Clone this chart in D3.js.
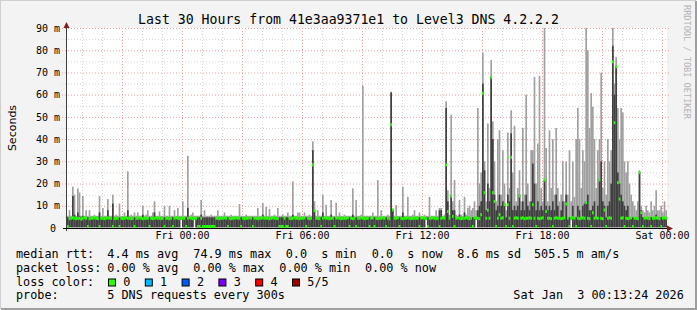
<!DOCTYPE html>
<html>
<head>
<meta charset="utf-8">
<script src="https://cdn.jsdelivr.net/npm/d3@7"></script>
<style>
  body { margin: 0; background: #fff; }
  text { font-family: "DejaVu Sans Mono", monospace; fill: #000; white-space: pre; }
</style>
</head>
<body>
<svg id="chart" width="697" height="310"></svg>
<script>
// 5 minute steps, 30 hours -> 360 steps, values in ms
const rttMedian = [
  0.5,4.2,4.4,4.6,4.4,4.2,4.4,4.4,4.0,4.4, 4.6,4.4,0.5,4.2,4.4,4.4,4.6,4.4,4.2,0.5, 4.4,4.4,4.2,4.4,4.6,4.4,4.4,0.5,4.2,4.4,
  4.4,0.5,4.4,4.2,4.4,4.6,4.4,4.4,4.2,4.4, 0.5,4.4,4.4,4.6,4.4,4.2,4.4,4.4,4.4,0.5, 4.4,4.2,4.4,4.6,4.4,4.4,4.2,4.4,0.5,4.4,
  4.4,4.2,4.4,0.5,4.4,4.6,4.4,4.2,4.4,4.4, 4.4,0.5,4.4,4.6,4.4,4.2,4.4,4.4,0.5,0.5, 4.4,0.5,0.5,0.5,0.5,0.5,0.5,0.5,0.5,4.4,
  4.4,4.2,4.4,4.4,4.6,4.4,0.5,4.4,4.2,4.4, 4.4,4.6,4.4,4.4,0.5,4.4,4.2,4.4,4.4,4.6, 4.4,0.5,4.4,4.4,4.2,4.4,4.4,4.6,4.4,4.4,
  4.4,4.2,4.4,4.6,4.4,4.4,4.2,0.5,0.5,0.5, 4.4,0.5,0.5,4.4,4.2,4.4,4.6,4.4,4.4,4.2, 4.4,4.4,4.6,0.5,4.4,4.2,4.4,28.4,7.7,4.4,
  4.4,4.2,0.5,4.4,4.6,4.4,4.4,4.2,4.4,4.4, 0.5,4.4,4.6,4.4,4.2,4.4,4.4,4.4,4.6,0.5, 4.4,4.2,4.4,0.5,4.4,4.4,4.6,4.4,4.2,4.4,
  4.4,0.5,4.4,4.6,0.5,4.4,4.2,4.4,4.4,4.6, 4.4,0.5,4.4,4.2,46.5,8.1,4.4,4.4,4.6,0.5, 4.4,4.2,4.4,4.4,4.6,4.4,4.2,4.4,4.4,4.4,
  4.4,0.5,4.4,4.6,4.4,4.2,0.5,4.4,4.4,4.6, 4.4,4.2,4.4,0.5,4.4,4.6,4.4,28.4,7.4,4.4, 14.4,5.2,0.5,4.4,4.6,4.4,4.2,4.4,4.4,4.6,
  4.4,4.2,4.4,0.5,4.6,4.4,4.4,4.2,6.0,60.6, 15.9,4.4,8.0,4.4,67.8,15.9,11.9,0.5,4.4,6.0, 4.4,4.6,10.5,0.5,10.5,4.4,31.8,0.5,4.4,4.6,
  4.4,14.4,4.4,4.6,4.2,4.4,4.4,4.6,4.4,10.5, 4.4,0.5,4.4,4.2,4.4,4.6,21.6,7.4,4.4,4.4, 4.2,0.5,4.4,4.6,4.4,4.4,4.2,4.4,4.6,10.8,
  4.4,0.5,4.4,4.6,4.4,0.5,4.4,4.2,4.4,4.6, 4.4,11.4,4.4,4.2,0.5,6.9,4.4,4.6,4.4,21.6, 4.4,4.2,8.1,0.5,4.4,4.6,4.4,74.8,47.4,72.6,
  20.4,13.0,4.4,4.6,0.5,4.4,4.2,4.4,4.6,0.5, 4.4,4.4,4.2,24.9,6.9,0.5,4.4,4.6,4.4,4.2, 0.5,4.4,4.4,4.6,4.4,4.2,0.5,4.4,4.6,4.4
];

// top of the inner (dark) smoke band
const rttHigh = [
  4.8,4.8,4.8,14.4,6,4.8,7,5.5,4.8,5.5, 4.8,4.8,4.8,4.8,4.8,4.8,4.8,4.8,4.8,7, 4.8,4.8,4.8,4.8,8,4.8,4.8,11,4.8,4.8,
  4.8,4.8,4.8,4.8,4.8,4.8,8,4.8,4.8,4.8, 4.8,4.8,4.8,4.8,4.8,6,4.8,4.8,4.8,4.8, 4.8,4.8,7,4.8,4.8,4.8,4.8,4.8,4.8,4.8,
  4.8,4.8,4.8,4.8,4.8,4.8,4.8,4.8,4.8,4.8, 4.8,4.8,9,4.8,4.8,4.8,4.8,4.8,4.8,4.8, 6,4.8,4.8,4.8,4.8,4.8,4.8,4.8,4.8,4.8,
  4.8,4.8,4.8,4.8,4.8,4.8,4.8,4.8,4.8,4.8, 4.8,4.8,4.8,4.8,4.8,4.8,4.8,4.8,4.8,4.8, 4.8,4.8,4.8,4.8,4.8,4.8,4.8,6,4.8,4.8,
  4.8,4.8,4.8,4.8,4.8,4.8,4.8,4.8,4.8,4.8, 4.8,4.8,4.8,4.8,4.8,6,4.8,4.8,4.8,4.8, 4.8,4.8,4.8,4.8,4.8,4.8,4.8,35,8,4.8,
  4.8,4.8,4.8,7,4.8,4.8,4.8,4.8,6,4.8, 4.8,4.8,4.8,4.8,4.8,4.8,4.8,4.8,4.8,4.8, 4.8,6,4.8,4.8,4.8,4.8,4.8,4.8,4.8,4.8,
  4.8,4.8,4.8,4.8,4.8,4.8,4.8,4.8,4.8,4.8, 4.8,4.8,4.8,4.8,61,8,4.8,4.8,4.8,4.8, 4.8,7,4.8,4.8,4.8,4.8,4.8,4.8,4.8,4.8,
  4.8,4.8,4.8,4.8,4.8,4.8,4.8,4.8,4.8,4.8, 4.8,4.8,4.8,8,8,4.8,4.8,54,12,4.8, 14.8,8,8,4.8,4.8,6,4.8,4.8,7,4.8,
  5,4.8,4.8,4.8,4.8,4.8,8,10,12,65, 26,8,20,12,68,40,15,8,10,15, 10,12,11,4.8,15,12,42.6,8,10,8,
  10,15,8,12,8,15,10,8,12,29, 20,8,12,8,10,8,21.6,10,8,10, 8,12,8,15,10,4.8,8,12,4.8,15,
  4.8,4.8,4.8,10,4.8,4.8,10,8,4.8,10, 11,12,15,8,8,10,12,4.8,10,22, 30,12,10,4.8,10,12,20,82,60,73,
  25,20,15,12,10,8,10,4.8,4.8,4.8, 4.8,4.8,4.8,25,8,4.8,4.8,4.8,4.8,4.8, 4.8,4.8,4.8,6,4.8,4.8,4.8,4.8,4.8,4.8
];

// slowest ping of each step (top of the light smoke)
const rttMax = [
  5.5,8,5.5,18.6,15,5.5,17.8,16,5.5,14.4, 5.5,8,5.5,8,5.5,5.5,6,5.5,5.5,14.4, 5.5,9,5.5,5.5,13,5.5,5.5,15,5.5,6,
  5.5,11,5.5,5.5,7,5.5,25.5,5.5,6,5.5, 7,5.5,7,5.5,5.5,10,5.5,6,8,5.5, 5.5,7,12,5.5,5.5,7.5,5.5,5.5,10,5.5,
  5.5,10,5.5,5.5,8,5.5,9,5.5,5.5,12, 5.5,5.5,32.5,5.5,6,7,5.5,5.5,5.5,5.5, 12.6,5.5,8,5.5,5.5,5.5,6,5.5,5.5,5.5,
  8,5.5,5.5,5.5,7,5.5,5.5,5.5,6,5.5, 5.5,5.5,5.5,10.8,5.5,5.5,5.5,6,5.5,5.5, 5.5,5.5,5.5,5.5,9,5.5,5.5,11.2,5.5,9.5,
  5.5,8.5,5.5,5.5,6,5.5,9,5.5,5.5,6, 5.5,5.5,7,5.5,5.5,21,5.5,5.5,7,7, 5.5,5.5,7,5.5,5.5,6,5.5,39,12,5.5,
  8,5.5,5.5,15,5.5,10.5,5.5,5.5,12.6,5.5, 5.5,11.4,5.5,7,5.5,5.5,6,5.5,5.5,5.5, 5.5,17.8,5.5,12.6,5.5,5.5,6,64,5.5,5.5,
  5.5,5.5,5.5,7,5.5,5.5,21.6,5.5,8,5.5, 5.5,5.5,6,5.5,61.3,8.5,5.5,10.3,5.5,5.5, 5.5,18.6,5.5,5.5,14,5.5,5.5,6,8,5.5,
  5.5,7,5.5,5.5,6,5.5,5.5,14,5.5,5.5, 5.5,8,5.5,9,9,5.5,6,57,17,6, 51,12,21.6,6,5.5,12.6,6,5.5,14,6,
  9,10,8,9,12,8,54,20,25,79, 30,12,47,18,75.6,48,30,12,40,44, 15,35,20,8,43,18,53,25,46,12,
  18,26,12,45,15,60,20,12,35,35, 68,20,38,68.4,18,12,90,36,12,44, 18,40,15,45,18,12,15,30,12,30,
  15,35,12,30,14,40,54,40,18,35, 30,90,80,45,60.7,54.6,40,18,35,40, 69.9,18,30,15,40,30,35,90,65,77,
  54,40,54,52,30,25,30,20,15,12, 10,8,12,26,10,8,7,10,8,7, 12,8,10,17,8,8,10,7,12,8
];

// steps where the smoke does not reach down to zero
const emptyBaseSteps = [68, 76, 215, 245, 302];

const yTicks = [0, 10, 20, 30, 40, 50, 60, 70, 80, 90];
const xLabelTimes = ['2026-01-02 00:00', '2026-01-02 06:00', '2026-01-02 12:00', '2026-01-02 18:00', '2026-01-03 00:00'];
const lossColors = ['#26ff00', '#00b8ff', '#0059ff', '#7e00ff', '#ff0000', '#a10000'];
const lossLabels = ['0', '1', '2', '3', '4', '5/5'];
const rttStats = ['4.4 ms avg', '74.9 ms max', '0.0  s min', '0.0  s now', '8.6 ms sd', '505.5 m am/s'];
const lossStats = ['0.00 % avg', '0.00 % max', '0.00 % min', '0.00 % now'];

const parseTime = d3.timeParse('%Y-%m-%d %H:%M');
const stepMinutes = 5;
const startTime = parseTime('2026-01-01 18:15');
const endTime = d3.timeMinute.offset(startTime, stepMinutes * rttMedian.length);

const svg = d3.select('#chart');

// canvas with 3d border
svg.append('rect').attr('width', 697).attr('height', 310).attr('fill', '#f3f3f3');
svg.append('path').attr('d', 'M0,309V0H696').attr('stroke', '#cfcfcf').attr('stroke-width', 2).attr('fill', 'none');
svg.append('path').attr('d', 'M1,309H696V1').attr('stroke', '#9e9e9e').attr('stroke-width', 2).attr('fill', 'none');

const x = d3.scaleTime().domain([startTime, endTime]).range([67, 667]);
const y = d3.scaleLinear().domain([0, 90]).range([228, 28]);

svg.append('rect')
    .attr('x', 67).attr('y', 28)
    .attr('width', 600).attr('height', 200)
    .attr('fill', '#fff');

// grid
const grid = svg.append('g');
d3.range(5, 90, 10).forEach(v => {
    grid.append('line')
        .attr('x1', 62).attr('x2', 669)
        .attr('y1', y(v) + 0.5).attr('y2', y(v) + 0.5)
        .attr('stroke', '#d2d2d2').attr('stroke-dasharray', '1,2');
});
d3.timeHour.range(startTime, endTime).forEach(t => {
    const major = t.getHours() % 3 === 0;
    grid.append('line')
        .attr('x1', Math.round(x(t)) + 0.5).attr('x2', Math.round(x(t)) + 0.5)
        .attr('y1', 28).attr('y2', 231)
        .attr('stroke', major ? '#eba0a0' : '#d2d2d2')
        .attr('stroke-dasharray', '1,2');
});
yTicks.filter(v => v > 0).forEach(v => {
    grid.append('line')
        .attr('x1', 62).attr('x2', 669)
        .attr('y1', y(v) + 0.5).attr('y2', y(v) + 0.5)
        .attr('stroke', '#eba0a0').attr('stroke-dasharray', '1,2');
});

// smoke
const steps = rttMedian.map((m, i) => ({
    t0: d3.timeMinute.offset(startTime, i * stepMinutes),
    t1: d3.timeMinute.offset(startTime, (i + 1) * stepMinutes),
    low: emptyBaseSteps.includes(i) ? Math.min(m, 3.8) : 0.3,
    med: m,
    high: Math.max(rttHigh[i], m),
    max: Math.max(rttMax[i], rttHigh[i], m)
}));
const clipY = v => y(Math.min(v, 90));

const smoke = svg.append('g');
smoke.selectAll('rect.outer')
    .data(steps)
    .join('rect')
    .attr('class', 'outer')
    .attr('x', d => x(d.t0))
    .attr('width', d => x(d.t1) - x(d.t0))
    .attr('y', d => clipY(d.max))
    .attr('height', d => y(d.low) - clipY(d.max))
    .attr('fill', '#a0a0a0');
smoke.selectAll('rect.inner')
    .data(steps)
    .join('rect')
    .attr('class', 'inner')
    .attr('x', d => x(d.t0))
    .attr('width', d => x(d.t1) - x(d.t0))
    .attr('y', d => clipY(d.high))
    .attr('height', d => y(d.low) - clipY(d.high))
    .attr('fill', '#404040');
smoke.selectAll('rect.median')
    .data(steps)
    .join('rect')
    .attr('class', 'median')
    .attr('x', d => x(d.t0))
    .attr('width', d => x(d.t1) - x(d.t0))
    .attr('y', d => Math.min(clipY(d.med) - 1.5, 225))
    .attr('height', 3)
    .attr('fill', lossColors[0]);

// axes
svg.append('line').attr('x1', 66.5).attr('x2', 66.5).attr('y1', 27).attr('y2', 231)
    .attr('stroke', '#404040');
svg.append('line').attr('x1', 63).attr('x2', 670).attr('y1', 228.5).attr('y2', 228.5)
    .attr('stroke', '#000');
svg.append('path').attr('d', 'M63.5,28 L66.5,22 L69.5,28 Z').attr('fill', '#8b1a1a');
svg.append('path').attr('d', 'M667,225.5 L673,228.5 L667,231.5 Z').attr('fill', '#8b1a1a');

const yAxis = svg.append('g')
    .attr('transform', 'translate(60,0)')
    .call(d3.axisLeft(y).tickValues(yTicks).tickSize(0).tickPadding(0)
        .tickFormat(v => v === 0 ? '0' : v + ' m'));
yAxis.select('.domain').remove();
yAxis.selectAll('text').attr('font-size', 10).attr('font-family', 'DejaVu Sans Mono')
    .attr('x', v => v === 0 ? -4 : 0);

const xAxis = svg.append('g')
    .attr('transform', 'translate(0,232)')
    .call(d3.axisBottom(x).tickValues(xLabelTimes.map(parseTime)).tickSize(0).tickPadding(0)
        .tickFormat(d3.timeFormat('%a %H:%M')));
xAxis.select('.domain').remove();
xAxis.selectAll('text').attr('font-size', 10).attr('font-family', 'DejaVu Sans Mono').attr('dy', '0.71em');

// titles
svg.append('text')
    .attr('x', 348.5).attr('y', 24)
    .attr('text-anchor', 'middle')
    .attr('font-size', 13.2)
    .text('Last 30 Hours from 41e3aa9371e1 to Level3 DNS 4.2.2.2');

svg.append('text')
    .attr('transform', 'translate(15.5,128) rotate(-90)')
    .attr('text-anchor', 'middle')
    .attr('font-size', 11)
    .style('font-family', '"DejaVu Sans", sans-serif')
    .text('Seconds');

svg.append('text')
    .attr('transform', 'translate(683.5,5) rotate(90)')
    .attr('font-size', 8.6)
    .style('fill', '#b4b4b4')
    .text('RRDTOOL / TOBI OETIKER');

// legend
const legend = svg.append('g').attr('font-size', 11.8);
const addText = (tx, ty, s) => legend.append('text').attr('x', tx).attr('y', ty).text(s);

addText(16, 258, 'median rtt:');
[107.3, 193.3, 285.7, 371.7, 457.3, 534].forEach((tx, i) => addText(tx, 258, rttStats[i]));

addText(16, 271.5, 'packet loss:');
[107.3, 193.3, 279.3, 365].forEach((tx, i) => addText(tx, 271.5, lossStats[i]));

addText(16, 285.5, 'loss color:');
lossColors.forEach((c, i) => {
    const bx = 108.5 + i * 36.8;
    legend.append('rect')
        .attr('x', bx).attr('y', 279)
        .attr('width', 7).attr('height', 7)
        .attr('fill', c).attr('stroke', '#000');
    addText(bx + 14.8, 285.5, lossLabels[i]);
});

addText(16, 299, 'probe:');
addText(107.3, 299, '5 DNS requests every 300s');
addText(513.3, 299, 'Sat Jan  3 00:13:24 2026');
</script>
</body>
</html>
